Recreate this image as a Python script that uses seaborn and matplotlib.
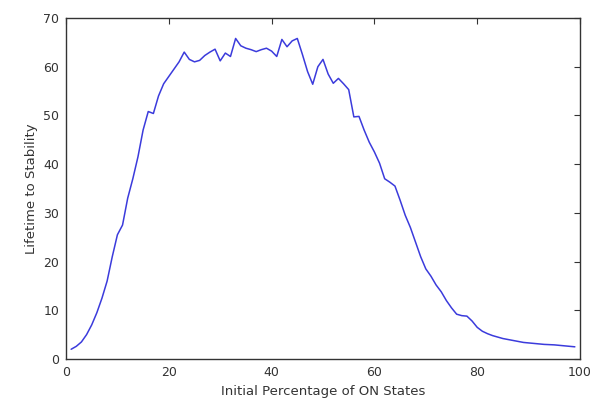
import matplotlib
matplotlib.use("Agg")
import matplotlib.pyplot as plt
import seaborn as sns
import pandas as pd

percent_on = list(range(1, 100))
lifetime = [
    2.0, 2.6, 3.5, 5.0, 7.0, 9.5, 12.5, 16.0, 21.0, 25.5,
    27.5, 33.0, 37.0, 41.5, 47.0, 50.8, 50.4, 54.0, 56.5, 58.0,
    59.5, 61.0, 63.0, 61.5, 61.0, 61.3, 62.3, 63.0, 63.6, 61.2,
    62.8, 62.1, 65.8, 64.3, 63.8, 63.5, 63.1, 63.5, 63.8, 63.2,
    62.1, 65.6, 64.1, 65.3, 65.8, 62.5, 59.0, 56.4, 60.0, 61.5,
    58.5, 56.6, 57.6, 56.5, 55.3, 49.7, 49.8, 47.0, 44.5, 42.5,
    40.2, 37.0, 36.3, 35.5, 32.6, 29.5, 27.0, 24.0, 21.0, 18.5,
    17.0, 15.2, 13.8, 12.0, 10.5, 9.2, 8.9, 8.8, 7.8, 6.5,
    5.7, 5.2, 4.8, 4.5, 4.2, 4.0, 3.8, 3.6, 3.4, 3.3,
    3.2, 3.1, 3.0, 2.95, 2.9, 2.8, 2.7, 2.6, 2.5,
]
x_ticks = [0, 20, 40, 60, 80, 100]
y_ticks = [0, 10, 20, 30, 40, 50, 60, 70]

df = pd.DataFrame({"pct": percent_on, "life": lifetime})

sns.set_style("white")
plt.rcParams["font.family"] = ["DejaVu Sans"]

fig = plt.figure(figsize=(5.95, 4.09), dpi=100)
ax = fig.add_axes([66 / 595, 1 - 359 / 409, (580 - 66) / 595, (359 - 18) / 409])
sns.lineplot(data=df, x="pct", y="life", ax=ax, color="#3b3bdc", linewidth=1.1)

ax.set_xlim(0, 100)
ax.set_ylim(0, 70)
ax.set_xticks(x_ticks)
ax.set_yticks(y_ticks)
ax.tick_params(direction="in", top=True, right=True, length=4, width=0.8,
               labelsize=9, colors="#333333", pad=5)
for s in ax.spines.values():
    s.set_color("#333333")
    s.set_linewidth(1.0)
ax.set_xlabel("Initial Percentage of ON States", fontsize=9.5, color="#333333")
ax.set_ylabel("Lifetime to Stability", fontsize=9.5, color="#333333")

fig.savefig("out.png", dpi=100)
